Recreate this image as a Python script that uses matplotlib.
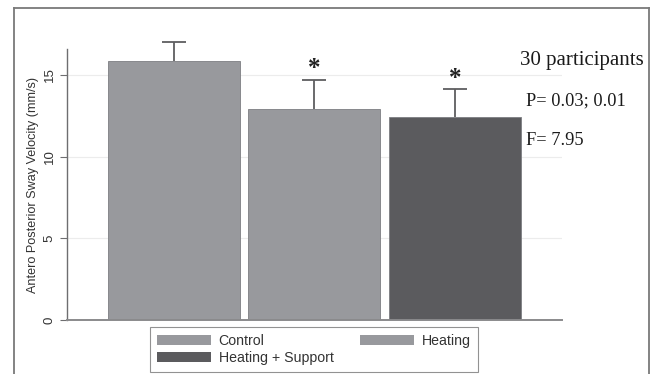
import numpy as np
import matplotlib.pyplot as plt
from matplotlib.lines import Line2D
from matplotlib.patches import Patch

# mean sway velocity and SD for each condition
groups = ['Control', 'Heating', 'Heating + Support']
means = [15.85, 12.91, 12.44]
sds = [1.18, 1.80, 1.68]
signif = [False, True, True]
colors = ['#98999d', '#98999d', '#5b5b5e']
notes = ['30 participants', 'P= 0.03; 0.01', 'F= 7.95']
yticks = [0, 5, 10, 15]

fig = plt.figure(figsize=(6.55, 3.74), dpi=100)
ax = fig.add_axes([66.7/655, 1-320/374, (562-66.7)/655, (320-49)/374])

x = np.arange(1, len(groups) + 1)
ax.bar(x, means, width=0.94, color=colors, edgecolor='#7d7e82', linewidth=0.6, zorder=2)
# upper half error bars only
tops = np.array(means) + np.array(sds)
ax.vlines(x, means, tops, color='#5e5e60', linewidth=1.3, zorder=3, clip_on=False)
ax.hlines(tops, x - 0.085, x + 0.085, color='#5e5e60', linewidth=1.3, zorder=3, clip_on=False)
for xi, t, sg in zip(x, tops, signif):
    if sg:
        ax.text(xi, t - 0.05, '*', ha='center', va='bottom', fontsize=18,
                family='Liberation Serif', weight='bold', color='#222222')

ax.set_xlim(0.24, 3.76)
ax.set_ylim(0, 16.58)
ax.set_yticks(yticks)
ax.set_yticklabels([str(t) for t in yticks], rotation=90, va='center', fontsize=9.5,
                   family='Liberation Sans', color='#333333')
ax.set_xticks([])
ax.yaxis.grid(True, color='#ececec', linewidth=0.8, zorder=0)
ax.set_axisbelow(True)
for s in ['top', 'right']:
    ax.spines[s].set_visible(False)
ax.spines['left'].set_color('#6e6e70')
ax.spines['bottom'].set_color('#8a8a8c')
ax.spines['left'].set_linewidth(1.0)
ax.spines['bottom'].set_linewidth(1.4)
ax.tick_params(axis='y', length=5, color='#6e6e70', pad=3)
ax.set_ylabel('Antero Posterior Sway Velocity (mm/s)', fontsize=9.1,
              family='Liberation Sans', color='#333333', labelpad=3)

# stats notes on the right
note_y = [60, 101, 141]
note_x = [520, 526, 526]
note_size = [15, 13.2, 13.2]
for t, nx, ny, fs in zip(notes, note_x, note_y, note_size):
    fig.text(nx/655, 1-ny/374, t, ha='left', va='center', fontsize=fs,
             family='Liberation Serif', color='#1a1a1a')

handles = [Patch(facecolor=colors[0], edgecolor='none'),
           Patch(facecolor=colors[2], edgecolor='none'),
           Patch(facecolor=colors[1], edgecolor='none')]
labels = [groups[0], groups[2], groups[1]]
leg = fig.legend(handles, labels, ncol=2, loc='upper left',
                 bbox_to_anchor=(150/655, 1-327/374), borderaxespad=0,
                 prop={'family': 'Liberation Sans', 'size': 10.2},
                 handlelength=3.8, handleheight=0.75, handletextpad=0.55,
                 columnspacing=1.85, labelspacing=0.2, borderpad=0.5,
                 frameon=True, fancybox=False)
leg.get_frame().set_edgecolor('#777777')
leg.get_frame().set_linewidth(0.8)
for t in leg.get_texts():
    t.set_color('#333333')

# outer frame
fl, fr, ft = 14/655, 649/655, 1-8/374
for xs, ys in [([fl, fl], [0, ft]), ([fl, fr], [ft, ft]), ([fr, fr], [ft, 0])]:
    fig.add_artist(Line2D(xs, ys, color='#7a7a7a', linewidth=1.3))

fig.savefig('out.png', dpi=100)
